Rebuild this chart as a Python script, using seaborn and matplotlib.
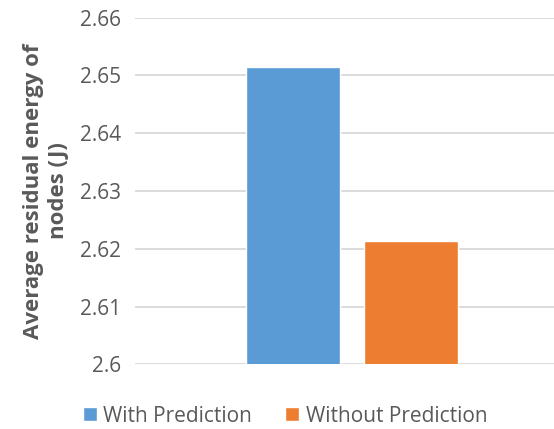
import matplotlib
matplotlib.use("Agg")
import matplotlib.pyplot as plt
import seaborn as sns
import pandas as pd
from matplotlib.ticker import FixedLocator, FuncFormatter

# Data
series = ["With Prediction", "Without Prediction"]
energy = [2.6514, 2.6213]
colors = ["#5B9BD5", "#ED7D31"]
y_ticks = [2.60, 2.61, 2.62, 2.63, 2.64, 2.65, 2.66]

df = pd.DataFrame({"group": ["Energy"] * len(series), "series": series, "energy": energy})

sns.set_theme(style="white")
plt.rcParams["font.family"] = ["Open Sans", "DejaVu Sans"]

fig = plt.figure(figsize=(5.54, 4.29), dpi=100)
ax = fig.add_axes([135 / 554, 1 - 364.3 / 429, 419 / 554, (364.3 - 17.7) / 429])

sns.barplot(data=df, x="group", y="energy", hue="series", palette=colors,
            hue_order=series, gap=0.2, width=0.8, ax=ax, legend=True,
            saturation=1, errorbar=None)

ax.set_ylim(y_ticks[0], y_ticks[-1])
ax.set_xlim(-0.736, 0.685)
ax.yaxis.set_major_locator(FixedLocator(y_ticks))
ax.yaxis.set_major_formatter(FuncFormatter(lambda v, p: f"{v:g}"))
ax.grid(axis="y", color="#D9D9D9", linewidth=1.3)
ax.set_axisbelow(True)
for s in ax.spines.values():
    s.set_visible(False)
ax.set_xticks([])
ax.set_xlabel("")
ax.tick_params(axis="y", length=0, pad=10, labelsize=15, labelcolor="#595959")

ax.set_ylabel("Average residual energy of\nnodes (J)", fontsize=16, fontweight="bold",
              color="#595959", linespacing=1.22)
ax.yaxis.set_label_coords(-0.158, 0.5)

handles, labels = ax.get_legend_handles_labels()
ax.legend_.remove()
fig.legend(handles, labels, loc="center", bbox_to_anchor=(285 / 554, 1 - 416 / 429),
           ncol=2, frameon=False, fontsize=15, labelcolor="#595959",
           handlelength=0.68, handleheight=0.68, handletextpad=0.3,
           columnspacing=1.6, borderaxespad=0, borderpad=0)

fig.savefig("out.png", dpi=100)
